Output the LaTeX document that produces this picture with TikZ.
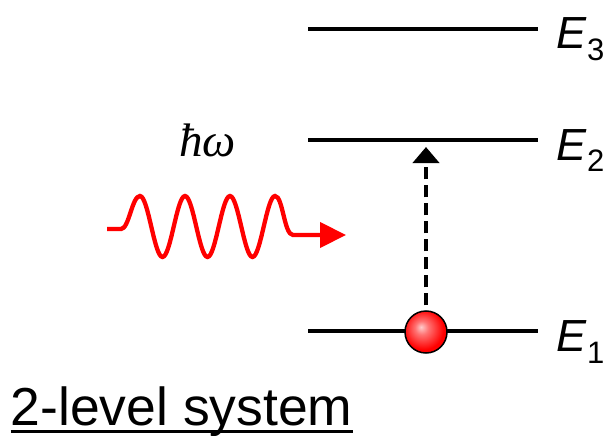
\documentclass[tikz,border=0pt]{standalone}
\usepackage{fontspec}
\setmainfont{Liberation Sans}
\newfontfamily\serifhw{Liberation Serif}
\usetikzlibrary{arrows.meta}
\pgfdeclareradialshading{ballred}{\pgfpoint{-6bp}{6bp}}{color(0bp)=(red!20!white); color(8bp)=(red!55!white); color(24bp)=(red); color(50bp)=(red)}
\begin{document}
\begin{tikzpicture}[x=1pt,y=-1pt,
  level/.style={line width=4.5pt, black},
  elabel/.style={anchor=base west, inner sep=0pt},
  wave/.style={red, line width=4.3pt, -{Triangle[length=26pt,width=25pt]}},
  excite/.style={line width=4pt, dash pattern=on 12pt off 6pt, -{Triangle[length=16pt,width=26pt]}}]
\useasboundingbox (0,0) rectangle (611,436);
% levels
\coordinate (E3l) at (308,29); \coordinate (E3r) at (538,29);
\coordinate (E2l) at (308,140); \coordinate (E2r) at (538,140);
\coordinate (E1l) at (308,331); \coordinate (E1r) at (538,331);
\draw[level] (E3l) -- (E3r);
\draw[level] (E2l) -- (E2r);
\draw[level] (E1l) -- (E1r);
\newcommand{\elev}[1]{{\fontsize{45}{45}\selectfont\itshape E}\kern1pt\raisebox{-12pt}{\fontsize{31}{31}\selectfont #1}}
\node[elabel] (L3) at (556,49) {\elev{3}};
\node[elabel] (L2) at (556,160) {\elev{2}};
\node[elabel] (L1) at (556,351) {\elev{1}};
% photon
\node[anchor=base west, inner sep=0pt, font=\serifhw\itshape\fontsize{47}{47}\selectfont] (hw) at (179,157) {ħω};
\coordinate (ws) at (107,229);
\coordinate (we) at (346,235);
\draw[wave] (ws) -- (121,229)
  .. controls (129,229) and (132,196) .. (140,196)
  .. controls (148.2,196) and (154.3,257) .. (162.5,257)
  .. controls (170.7,257) and (176.8,196) .. (185,196)
  .. controls (193.2,196) and (199.3,257) .. (207.5,257)
  .. controls (215.7,257) and (221.8,196) .. (230,196)
  .. controls (238.2,196) and (244.3,257) .. (252.5,257)
  .. controls (260.7,257) and (266.8,196) .. (275,196)
  .. controls (283,196) and (284,235) .. (293,235)
  -- (we);
% electron
\node[circle, minimum size=42pt, inner sep=0pt, draw, line width=1.5pt, shading=ballred] (ball) at (426,332) {};
\coordinate (tip) at (426,147);
\draw[excite, shorten <=5pt] (ball.north) -- (tip);
% title
\node[anchor=base west, inner sep=0pt, font=\fontsize{53.5}{53.5}\selectfont] (title) at (10.5,425) {2-level system};
\draw[line width=2.5pt] ([yshift=-6.5pt]title.base west) -- ([yshift=-6.5pt]title.base east);
\end{tikzpicture}
\end{document}
